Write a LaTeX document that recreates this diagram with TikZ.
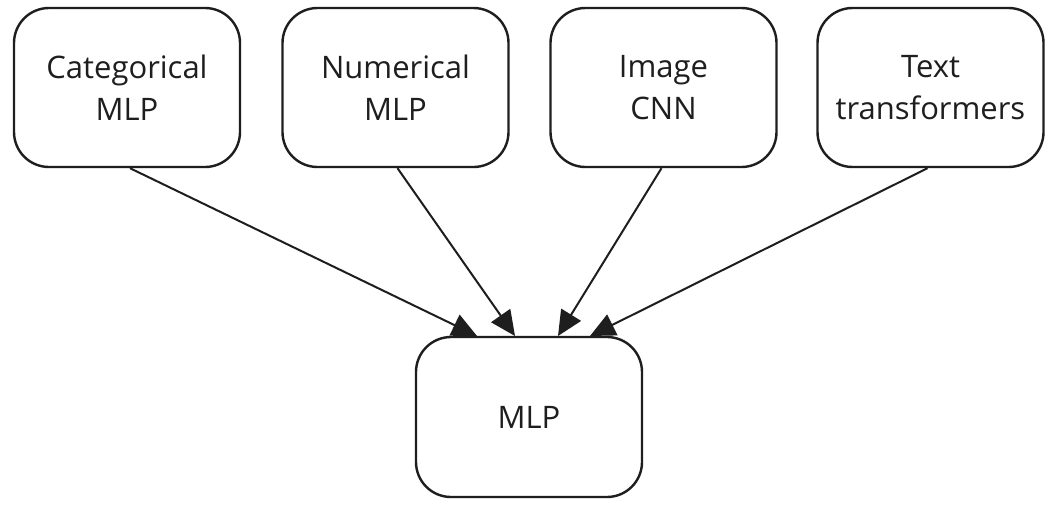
\documentclass[tikz,border=0pt]{standalone}
\usepackage{fontspec}
\setmainfont{Open Sans}
\usetikzlibrary{arrows.meta}
\definecolor{ink}{HTML}{1E1E1E}
\begin{document}
\begin{tikzpicture}[x=1pt,y=-1pt,
  box/.style={draw=ink, line width=2.4pt, rounded corners=35pt, fill=white,
    minimum width=226pt, minimum height=159pt, align=center, inner sep=0pt,
    font=\fontsize{31}{42}\selectfont, text=ink},
  conn/.style={draw=ink, line width=2pt, -{Triangle[length=25pt,width=23pt]}}]
\useasboundingbox (0,0) rectangle (1059,506);
\fill[white] (0,0) rectangle (1059,506);
\node[box] (cat) at (127,87.5) {Categorical\\MLP};
\node[box] (num) at (395.5,87.5) {Numerical\\MLP};
\node[box] (img) at (663.5,87.5) {Image\\CNN};
\node[box] (txt) at (930.5,87.5) {Text\\transformers};
\node[box, minimum height=160pt] (mlp) at (529,417) {MLP};
\coordinate (t1) at (477,336);
\coordinate (t2) at (515,336);
\coordinate (t3) at (558,336);
\coordinate (t4) at (590,336);
\draw[conn] ([xshift=3pt]cat.south) -- (t1);
\draw[conn] ([xshift=2pt]num.south) -- (t2);
\draw[conn] ([xshift=-2pt]img.south) -- (t3);
\draw[conn] ([xshift=-3pt]txt.south) -- (t4);
\end{tikzpicture}
\end{document}
